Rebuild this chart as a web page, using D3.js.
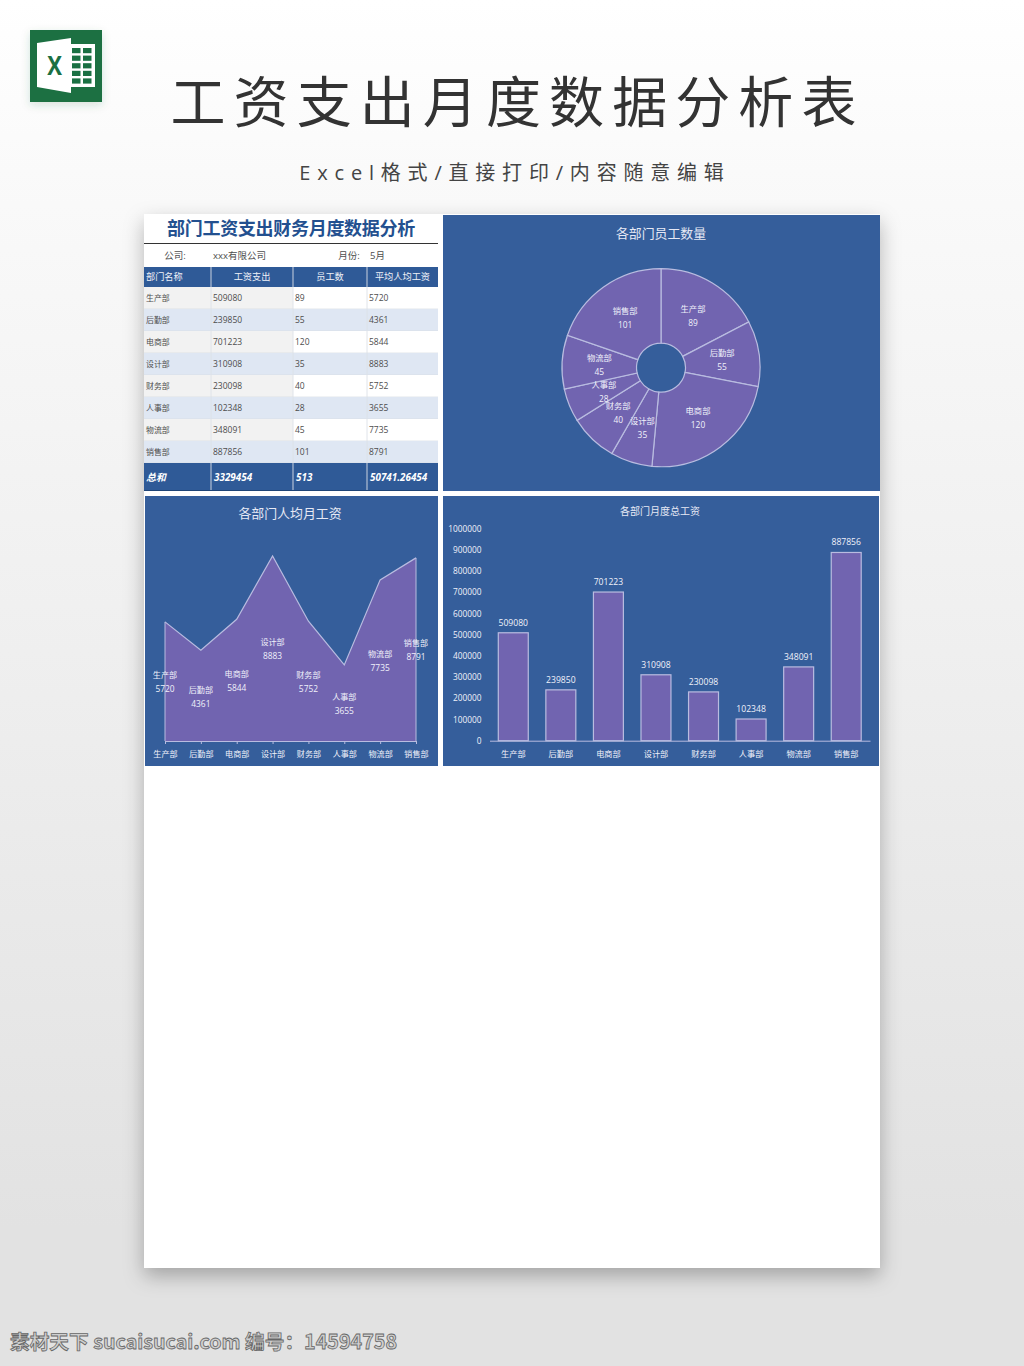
<!DOCTYPE html>
<html>
<head>
<meta charset="utf-8">
<title>工资支出月度数据分析表</title>
<script src="https://cdn.jsdelivr.net/npm/d3@7"></script>
<style>
html, body { margin: 0; padding: 0; background: #fff; }
svg { display: block; }
text { font-family: "Open Sans", "Noto Sans CJK SC", sans-serif; }
</style>
</head>
<body>
<svg id="page" width="1024" height="1366"></svg>
<script>
'use strict';

// the data
var departments = ['生产部', '后勤部', '电商部', '设计部', '财务部', '人事部', '物流部', '销售部'];
var salaryTotal = [509080, 239850, 701223, 310908, 230098, 102348, 348091, 887856];
var headcount = [89, 55, 120, 35, 40, 28, 45, 101];
var salaryAverage = [5720, 4361, 5844, 8883, 5752, 3655, 7735, 8791];
var tableHeader = ['部门名称', '工资支出', '员工数', '平均人均工资'];
var tableTotal = ['总和', '3329454', '513', '50741.26454'];
var barTicks = [0, 100000, 200000, 300000, 400000, 500000, 600000, 700000, 800000, 900000, 1000000];

var panelBlue = '#355e9b';
var headBlue = '#2f5a97';
var purple = '#7164b0';
var edge = '#b9bce0';
var labelColor = '#f0f1fa';

var svg = d3.select('#page');
var defs = svg.append('defs');

// page background
var grad = defs.append('linearGradient').attr('id', 'bg').attr('x1', 0).attr('y1', 0).attr('x2', 0).attr('y2', 1);
grad.append('stop').attr('offset', '0').attr('stop-color', '#ffffff');
grad.append('stop').attr('offset', '0.15').attr('stop-color', '#f9f9f9');
grad.append('stop').attr('offset', '0.9').attr('stop-color', '#e2e2e2');
grad.append('stop').attr('offset', '1').attr('stop-color', '#e2e2e2');
svg.append('rect').attr('width', 1024).attr('height', 1366).attr('fill', 'url(#bg)');

var shadow = defs.append('filter').attr('id', 'shadow')
	.attr('x', '-10%').attr('y', '-10%').attr('width', '120%').attr('height', '120%');
shadow.append('feDropShadow').attr('dx', 0).attr('dy', 8).attr('stdDeviation', 10)
	.attr('flood-color', '#000').attr('flood-opacity', 0.28);

var iconShadow = defs.append('filter').attr('id', 'iconShadow')
	.attr('x', '-20%').attr('y', '-20%').attr('width', '140%').attr('height', '140%');
iconShadow.append('feDropShadow').attr('dx', 0).attr('dy', 3).attr('stdDeviation', 4)
	.attr('flood-color', '#1a7043').attr('flood-opacity', 0.18);

/* excel icon */
var icon = svg.append('g').attr('transform', 'translate(30,30)');
icon.append('rect').attr('width', 72).attr('height', 72).attr('fill', '#1a7043').attr('filter', 'url(#iconShadow)');
icon.append('rect').attr('x', 40).attr('y', 14).attr('width', 25).attr('height', 43).attr('fill', '#fff');
[0, 1, 2, 3, 4].forEach(function(r){
	[0, 1].forEach(function(c){
		icon.append('rect').attr('x', 42 + c * 11).attr('y', 18 + r * 7.6)
			.attr('width', 8.5).attr('height', 5.2).attr('fill', '#1a7043');
	});
});
icon.append('path').attr('d', 'M7,13 L41,8 L41,63 L7,57 Z').attr('fill', '#fff');
icon.append('text').attr('y', 45).attr('text-anchor', 'middle')
	.attr('font-size', 26).attr('font-weight', 700).attr('fill', '#1a7043')
	.attr('transform', 'translate(24.5,0) scale(0.85,1)')
	.text('X');

/* headline */
svg.append('text').attr('x', 517.5).attr('y', 122).attr('text-anchor', 'middle')
	.attr('font-size', 55).attr('letter-spacing', 8.1).attr('fill', '#333')
	.text('工资支出月度数据分析表');
svg.append('text').attr('x', 515).attr('y', 180).attr('text-anchor', 'middle')
	.attr('font-size', 20).attr('letter-spacing', 6.8).attr('fill', '#444')
	.text('Excel格式/直接打印/内容随意编辑');

// white sheet
svg.append('rect').attr('x', 144).attr('y', 214).attr('width', 736).attr('height', 1054)
	.attr('fill', '#fff').attr('filter', 'url(#shadow)');

// source line at the bottom
svg.append('text').attr('x', 10).attr('y', 1349)
	.attr('font-size', 19.7).attr('font-weight', 700).attr('fill', '#cfcfcf')
	.attr('stroke', '#666').attr('stroke-width', 0.8)
	.style('font-family', '"Noto Sans CJK SC"')
	.text('素材天下 sucaisucai.com  编号：14594758');

/* table */
var colX = [144, 211, 293, 367, 438];
var rowTop = 287, rowH = 22;
var table = svg.append('g');

table.append('text').attr('x', 291).attr('y', 235).attr('text-anchor', 'middle')
	.attr('font-size', 18).attr('font-weight', 700).attr('letter-spacing', -0.3).attr('fill', '#23508f')
	.style('font-family', '"Noto Sans CJK SC"')
	.text('部门工资支出财务月度数据分析');
table.append('line').attr('x1', 144).attr('x2', 438).attr('y1', 243.5).attr('y2', 243.5)
	.attr('stroke', '#333').attr('stroke-width', 1);

function tableText(x, y, str, anchor, color, size){
	return table.append('text').attr('x', x).attr('y', y).attr('text-anchor', anchor || 'start')
		.attr('font-size', size || 8.5).attr('fill', color || '#4d4d4d').text(str);
}
tableText(175, 259, '公司:', 'middle', '#4d4d4d', 9.5);
tableText(213, 259, 'xxx有限公司', 'start', '#4d4d4d', 9.5);
tableText(349, 259, '月份:', 'middle', '#4d4d4d', 9.5);
tableText(370, 259, '5月', 'start', '#4d4d4d', 9.5);

// header row
table.append('rect').attr('x', 144).attr('y', 267).attr('width', 294).attr('height', 20).attr('fill', headBlue);
tableHeader.forEach(function(h, i){
	if(i === 0){
		tableText(146, 280, h, 'start', '#eef1f8', 9.2);
	}
	else {
		tableText((colX[i] + colX[i + 1]) / 2, 280, h, 'middle', '#eef1f8', 9.2);
	}
});

// body rows
departments.forEach(function(dep, i){
	var y = rowTop + i * rowH;
	var cells = [dep, salaryTotal[i], headcount[i], salaryAverage[i]];
	cells.forEach(function(cell, c){
		var fill;
		if(i % 2 === 1) fill = '#dfe7f3';
		else fill = c < 2 ? '#f2f2f2' : '#ffffff';
		table.append('rect').attr('x', colX[c]).attr('y', y)
			.attr('width', colX[c + 1] - colX[c]).attr('height', rowH).attr('fill', fill);
		tableText(colX[c] + 2, y + 14, cell, 'start', '#4d4d4d', c === 0 ? 7.9 : 8.5);
	});
	table.append('line').attr('x1', 144).attr('x2', 438).attr('y1', y + rowH).attr('y2', y + rowH)
		.attr('stroke', '#d9dde4').attr('stroke-width', 0.7);
});

// total row
table.append('rect').attr('x', 144).attr('y', 463).attr('width', 294).attr('height', 27).attr('fill', headBlue);
tableTotal.forEach(function(t, i){
	tableText(colX[i] + 2 + (i > 0 ? 1 : 0), 480.5, t, 'start', '#fff', 9.9)
		.attr('font-weight', 700).attr('font-style', 'italic');
});
table.append('line').attr('x1', 144).attr('x2', 438).attr('y1', 490.5).attr('y2', 490.5)
	.attr('stroke', '#1e4477').attr('stroke-width', 1);

// column separators
colX.slice(1, 4).forEach(function(x){
	table.append('line').attr('x1', x).attr('x2', x).attr('y1', 267).attr('y2', 490)
		.attr('stroke', '#dde1e8').attr('stroke-width', 0.9);
});

// a blue chart panel with its title
function panel(x, y, w, h, title, titleX, titleY, size){
	svg.append('rect').attr('x', x).attr('y', y).attr('width', w).attr('height', h).attr('fill', panelBlue);
	svg.append('text').attr('x', titleX).attr('y', titleY).attr('text-anchor', 'middle')
		.attr('font-size', size).attr('fill', '#e6e9f5').text(title);
}

// two line label: name over value
function twoLine(group, x, y, name, value, nameSize){
	group.append('text').attr('x', x).attr('y', y - 3).attr('text-anchor', 'middle')
		.attr('font-size', nameSize).attr('fill', labelColor).text(name);
	group.append('text').attr('x', x).attr('y', y + 11).attr('text-anchor', 'middle')
		.attr('font-size', 8.4).attr('fill', labelColor).text(value);
}

/* pie: employees per department */
panel(443, 215, 437, 276, '各部门员工数量', 661, 237.5, 12.9);

var pieG = svg.append('g').attr('transform', 'translate(661,367.7)');
var pie = d3.pie().sort(null).value(function(d){ return d; });
var arc = d3.arc().innerRadius(24.5).outerRadius(99);
var slices = pie(headcount);

pieG.selectAll('path').data(slices).enter().append('path')
	.attr('d', arc).attr('fill', purple).attr('stroke', edge).attr('stroke-width', 1.2);

slices.forEach(function(s, i){
	var c = arc.centroid(s);
	twoLine(pieG, c[0], c[1], departments[i], headcount[i], 8.3);
});

/* area: average salary */
panel(145, 496, 293, 270, '各部门人均月工资', 290, 518, 12.9);

var xArea = d3.scalePoint().domain(departments).range([165, 416]);
var yArea = d3.scaleLinear().domain([0, 10000]).range([741, 532.7]);

var area = d3.area()
	.x(function(d, i){ return xArea(departments[i]); })
	.y0(yArea(0))
	.y1(function(d){ return yArea(d); });
var topLine = d3.line()
	.x(function(d, i){ return xArea(departments[i]); })
	.y(function(d){ return yArea(d); });

var areaG = svg.append('g');
areaG.append('path').attr('d', area(salaryAverage)).attr('fill', purple);
areaG.append('path').attr('d', topLine(salaryAverage)).attr('fill', 'none').attr('stroke', edge).attr('stroke-width', 1.2);
areaG.append('line').attr('x1', xArea.range()[0]).attr('x2', xArea.range()[0])
	.attr('y1', yArea(salaryAverage[0])).attr('y2', yArea(0)).attr('stroke', edge);
areaG.append('line').attr('x1', xArea.range()[1]).attr('x2', xArea.range()[1])
	.attr('y1', yArea(salaryAverage[7])).attr('y2', yArea(0)).attr('stroke', edge);

var areaAxis = svg.append('g').attr('transform', 'translate(0,741)')
	.call(d3.axisBottom(xArea).tickSize(3).tickPadding(7));
areaAxis.selectAll('path, line').attr('stroke', edge);
areaAxis.selectAll('text').attr('font-size', 8.1).attr('fill', labelColor)
	.style('font-family', '"Noto Sans CJK SC"');

salaryAverage.forEach(function(v, i){
	twoLine(areaG, xArea(departments[i]), (yArea(v) + yArea(0)) / 2, departments[i], v, 8.1);
});

/* bars: total salary */
panel(443, 496, 436, 270, '各部门月度总工资', 660, 514.5, 10);

var xBar = d3.scaleBand().domain(departments).range([489.5, 870]).paddingInner(0.37).paddingOuter(0.185);
var yBar = d3.scaleLinear().domain([0, 1000000]).range([740.7, 528.7]);

svg.append('g').selectAll('rect').data(salaryTotal).enter().append('rect')
	.attr('x', function(d, i){ return xBar(departments[i]); })
	.attr('y', function(d){ return yBar(d); })
	.attr('width', xBar.bandwidth())
	.attr('height', function(d){ return yBar(0) - yBar(d); })
	.attr('fill', purple).attr('stroke', edge).attr('stroke-width', 1.2);

svg.append('g').selectAll('text').data(salaryTotal).enter().append('text')
	.attr('x', function(d, i){ return xBar(departments[i]) + xBar.bandwidth() / 2; })
	.attr('y', function(d){ return yBar(d) - 7; })
	.attr('text-anchor', 'middle').attr('font-size', 8.6).attr('fill', labelColor)
	.text(function(d){ return d; });

var barLeft = svg.append('g').attr('transform', 'translate(489.5,0)')
	.call(d3.axisLeft(yBar).tickValues(barTicks).tickSize(0).tickPadding(8).tickFormat(d3.format('d')));
barLeft.select('.domain').remove();
barLeft.selectAll('text').attr('font-size', 8.3).attr('fill', labelColor)
	.style('font-family', '"Open Sans"');

var barBottom = svg.append('g').attr('transform', 'translate(0,740.7)')
	.call(d3.axisBottom(xBar).tickSize(0).tickPadding(10));
barBottom.select('.domain').attr('stroke', edge);
barBottom.selectAll('text').attr('font-size', 8.2).attr('fill', labelColor)
	.style('font-family', '"Noto Sans CJK SC"');
</script>
</body>
</html>
